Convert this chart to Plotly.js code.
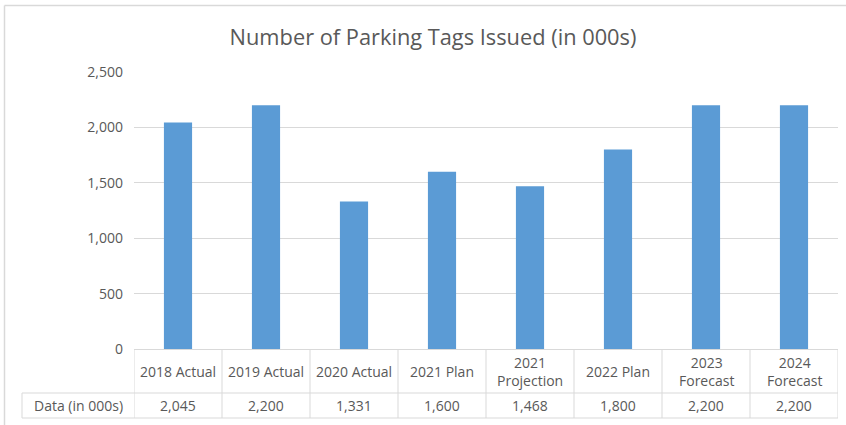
<!DOCTYPE html>
<html><head><meta charset="utf-8">
<script src="https://cdn.plot.ly/plotly-3.0.1.min.js"></script>
<style>html,body{margin:0;padding:0;background:#fff}#chart{width:846px;height:425px}</style>
</head><body><div id="chart"></div>
<script>
const categories = ["2018 Actual","2019 Actual","2020 Actual","2021 Plan","2021<br>Projection","2022 Plan","2023<br>Forecast","2024<br>Forecast"];
const values = [2045, 2200, 1331, 1600, 1468, 1800, 2200, 2200];
const yTicks = [0, 500, 1000, 1500, 2000, 2500];
const tableRowLabel = "Data (in 000s)";
const chartTitle = "Number of Parking Tags Issued (in 000s)";

const W = 846, H = 425, L = 134, R = 8, T = 72, B = 76;
const pw = W - L - R, ph = H - T - B;
const px2x = p => (p - L) / pw;
const py2y = p => (H - B - p) / ph;
const FONT = '"Liberation Sans Narrow", "Open Sans", sans-serif';
const GRID = '#d9d9d9', TXT = '#595959';

const idx = categories.map((_, i) => i);
const fmt = v => v.toLocaleString('en-US');

const shapes = [];
const lineStyle = {color: GRID, width: 1};
// vertical table lines at category boundaries
for (let i = 0; i <= categories.length; i++) {
  shapes.push({type:'line', xref:'x', yref:'paper', x0:i-0.5, x1:i-0.5, y0:0, y1:py2y(418), line:lineStyle});
}
// horizontal table lines
[393, 418].forEach(p => shapes.push({type:'line', xref:'paper', yref:'paper', x0:px2x(22), x1:1, y0:py2y(p), y1:py2y(p), line:lineStyle}));
shapes.push({type:'line', xref:'paper', yref:'paper', x0:px2x(22), x1:px2x(22), y0:py2y(393), y1:py2y(418), line:lineStyle});
// outer chart border
shapes.push({type:'line', xref:'paper', yref:'paper', x0:px2x(4.5), x1:px2x(850), y0:py2y(5.5), y1:py2y(5.5), line:{color:GRID, width:1.5}});
shapes.push({type:'line', xref:'paper', yref:'paper', x0:px2x(4.5), x1:px2x(4.5), y0:py2y(5.5), y1:py2y(430), line:{color:GRID, width:1.5}});

const annotations = [];
categories.forEach((c, i) => {
  annotations.push({xref:'x', yref:'paper', x:i, y:py2y(371), text:c, showarrow:false, font:{family:FONT, size:14, color:TXT}, xanchor:'center', yanchor:'middle'});
  annotations.push({xref:'x', yref:'paper', x:i, y:py2y(405.5), text:fmt(values[i]), showarrow:false, font:{family:FONT, size:14, color:TXT}, xanchor:'center', yanchor:'middle'});
});
annotations.push({xref:'paper', yref:'paper', x:px2x(78), y:py2y(405.5), text:tableRowLabel, showarrow:false, font:{family:FONT, size:14, color:TXT}, xanchor:'center', yanchor:'middle'});

const data = [{
  type:'bar', x: idx, y: values,
  marker:{color:'#5b9bd5'}, hoverinfo:'none'
}];

const layout = {
  width: W, height: H,
  margin: {l:L, r:R, t:T, b:B},
  paper_bgcolor:'#fff', plot_bgcolor:'#fff',
  title: {text: chartTitle, font:{family:FONT, size:21.8, color:TXT}, x: 433 / W, xanchor:'center', y: 1 - 37 / H, yanchor:'middle'},
  bargap: 0.68,
  showlegend:false,
  xaxis: {type:'linear', range:[-0.5, categories.length - 0.5], showticklabels:false, showgrid:false, zeroline:false, ticks:'', fixedrange:true},
  yaxis: {range:[0, 2500], tickvals: yTicks, ticktext: yTicks.map(fmt), showgrid:true, gridcolor:GRID, gridwidth:1, zeroline:true, zerolinecolor:GRID, zerolinewidth:1, ticks:'', ticklabelstandoff:10, tickfont:{family:FONT, size:14, color:TXT}, fixedrange:true},
  shapes, annotations,
  font:{family:FONT, color:TXT}
};
Plotly.newPlot('chart', data, layout, {displayModeBar:false, staticPlot:true});
</script></body></html>
